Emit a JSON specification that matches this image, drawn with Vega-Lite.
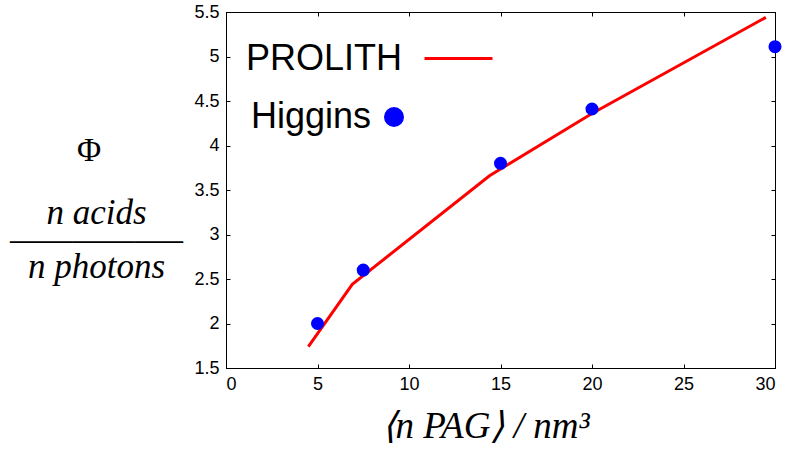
{
  "$schema": "https://vega.github.io/schema/vega-lite/v6.json",
  "width": 549,
  "height": 356,
  "autosize": {"type": "none"},
  "padding": {"left": 226, "top": 12, "right": 11, "bottom": 87},
  "background": "white",
  "config": {
    "view": {"stroke": "black", "strokeWidth": 1},
    "axis": {"grid": false, "domainColor": "black", "tickColor": "black", "labelColor": "black", "labelFont": "Liberation Sans", "labelFontSize": 18, "tickSize": -4, "labelPadding": 11, "titleColor": "black"}
  },
  "title": {"text": "Φ", "orient": "top", "anchor": "start", "frame": "group", "align": "center", "baseline": "alphabetic", "font": "Liberation Serif", "fontSize": 33, "fontWeight": "normal", "color": "black", "offset": 0, "dx": -137, "dy": 191},
  "datasets": {
    "prolith": [
      {"x": 4.5, "y": 1.74, "series": "PROLITH"},
      {"x": 6.9, "y": 2.44, "series": "PROLITH"},
      {"x": 14.4, "y": 3.66, "series": "PROLITH"},
      {"x": 20.0, "y": 4.36, "series": "PROLITH"},
      {"x": 29.5, "y": 5.44, "series": "PROLITH"}
    ],
    "higgins": [
      {"x": 5, "y": 2.0, "series": "Higgins"},
      {"x": 7.5, "y": 2.6, "series": "Higgins"},
      {"x": 15, "y": 3.8, "series": "Higgins"},
      {"x": 20, "y": 4.41, "series": "Higgins"},
      {"x": 30, "y": 5.11, "series": "Higgins"}
    ],
    "frame": [{"x": 0, "y": 1.5}]
  },
  "layer": [
    {
      "data": {"name": "prolith"},
      "mark": {"type": "line", "strokeWidth": 3, "clip": false},
      "encoding": {
        "x": {"field": "x", "type": "quantitative", "scale": {"domain": [0, 30], "nice": false, "zero": false},
          "axis": {"orient": "bottom", "values": [0, 5, 10, 15, 20, 25, 30], "title": "⟨n PAG⟩ / nm³", "titleFont": "Liberation Serif", "titleFontStyle": "italic", "titleFontWeight": "normal", "titleFontSize": 37, "titleX": 259, "titleY": 69, "titleAlign": "center", "titleBaseline": "alphabetic"}},
        "y": {"field": "y", "type": "quantitative", "scale": {"domain": [1.5, 5.5], "nice": false, "zero": false},
          "axis": {"orient": "left", "values": [1.5, 2, 2.5, 3, 3.5, 4, 4.5, 5, 5.5], "format": "~g", "title": ["n acids", "—————–", "n photons"], "titleFont": "Liberation Serif", "titleFontStyle": "italic", "titleFontWeight": "normal", "titleFontSize": 35, "titleLineHeight": 27, "titleAngle": 0, "titleX": -130, "titleY": 211, "titleAlign": "center", "titleBaseline": "alphabetic"}},
        "color": {"field": "series", "type": "nominal", "scale": {"domain": ["PROLITH"], "range": ["#ff0000"]},
          "legend": {"orient": "none", "legendX": 197, "legendY": 11, "title": null, "padding": 0, "symbolType": "stroke", "symbolSize": 4624, "symbolStrokeWidth": 3, "labelFont": "Liberation Sans", "labelFontSize": 36, "labelColor": "black", "labelAlign": "right", "labelBaseline": "middle", "labelOffset": -92, "labelLimit": 0}}
      }
    },
    {
      "data": {"name": "higgins"},
      "mark": {"type": "point", "filled": true, "size": 170, "opacity": 1, "clip": false},
      "encoding": {
        "x": {"field": "x", "type": "quantitative", "axis": null},
        "y": {"field": "y", "type": "quantitative", "axis": null},
        "color": {"field": "series", "type": "nominal", "scale": {"domain": ["Higgins"], "range": ["#0000ff"]},
          "legend": {"orient": "none", "legendX": 150, "legendY": 87, "title": null, "padding": 0, "symbolType": "circle", "symbolSize": 400, "symbolOpacity": 1, "labelFont": "Liberation Sans", "labelFontSize": 36, "labelColor": "black", "labelAlign": "right", "labelBaseline": "middle", "labelOffset": -41, "labelLimit": 0}}
      }
    },
    {
      "data": {"name": "frame"},
      "mark": {"type": "point", "opacity": 0},
      "encoding": {
        "x": {"field": "x", "type": "quantitative", "axis": {"orient": "top", "values": [0, 5, 10, 15, 20, 25, 30], "labels": false, "title": null}},
        "y": {"field": "y", "type": "quantitative", "axis": {"orient": "right", "values": [1.5, 2, 2.5, 3, 3.5, 4, 4.5, 5, 5.5], "labels": false, "title": null}}
      }
    }
  ],
  "resolve": {"scale": {"color": "independent"}, "legend": {"color": "independent"}, "axis": {"x": "independent", "y": "independent"}}
}
